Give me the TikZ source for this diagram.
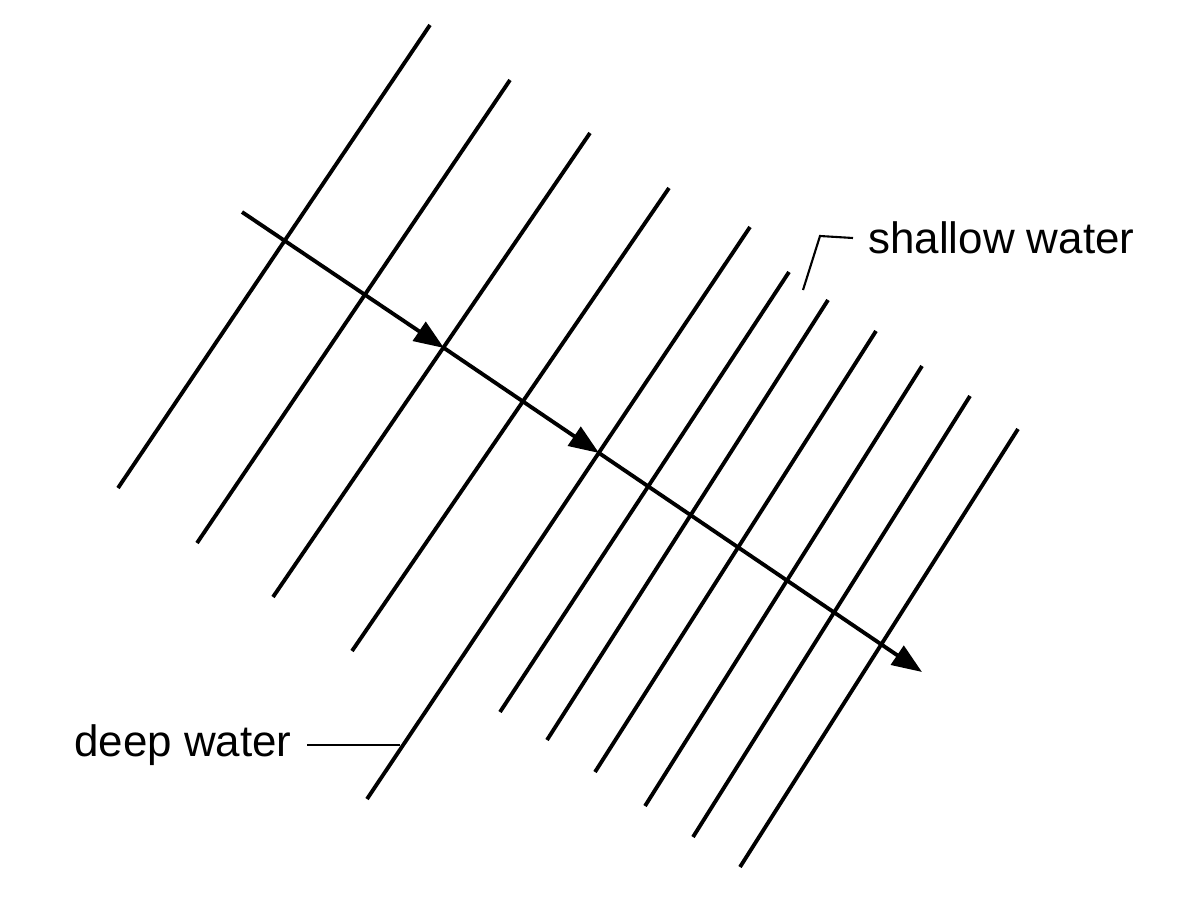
\documentclass[tikz,border=0pt]{standalone}
\usepackage{fontspec}
\setmainfont{Liberation Sans}
\usetikzlibrary{arrows.meta}
\begin{document}
\begin{tikzpicture}[x=0.02cm,y=-0.02cm,
	front/.style={line width=2.2pt},
	ray/.style={line width=2.2pt,-{Triangle[length=0.6cm,width=0.45cm]}},
	lbl/.style={font=\fontsize{25}{30}\selectfont,inner sep=0pt}]
	\useasboundingbox (0,0) rectangle (1200,896);
	% wave fronts
	\foreach \n/\xa/\ya/\xb/\yb in {1/118/488/430/25, 2/197/543/510/80, 3/273/597/590/133, 4/352/651/669/188, 5/367/799/750/227, 6/500/712/789/272, 7/547/740/828/300, 8/595/772/876/331, 9/645/806/922/366, 10/693/837/970/396, 11/740/867/1018/429}
	{
		\coordinate (f\n a) at (\xa,\ya);
		\coordinate (f\n b) at (\xb,\yb);
		\draw[front] (f\n a) -- (f\n b);
	}
	% ray
	\coordinate (r0) at (242,212);
	\coordinate (r1) at (444,348);
	\coordinate (r2) at (599,453);
	\coordinate (r3) at (922,672);
	\draw[ray] (r0) -- (r1);
	\draw[ray] (r1) -- (r2);
	\draw[ray] (r2) -- (r3);
	% labels
	\node[lbl,anchor=west] (sw) at (868,238) {shallow water};
	\node[lbl,anchor=east] (dw) at (292,745) {deep water};
	\coordinate (swk) at (820,236);
	\coordinate (swe) at (803,290);
	\coordinate (dwe) at (400,745);
	\draw[line width=1.2pt] ([xshift=-3mm]sw.west) -- (swk) -- (swe);
	\draw[line width=1.2pt] ([xshift=3mm]dw.east) -- (dwe);
\end{tikzpicture}
\end{document}
